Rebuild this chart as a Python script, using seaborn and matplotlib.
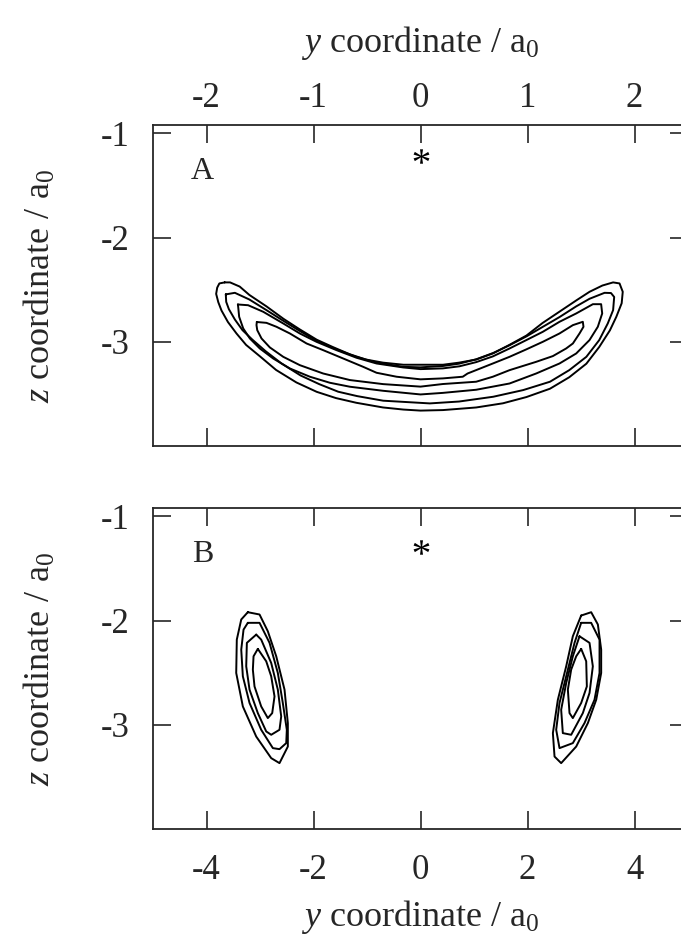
import pandas as pd
import matplotlib
matplotlib.use("Agg")
import matplotlib.pyplot as plt
import seaborn as sns

# contour outlines, (y, z) in bohr
# panel A: the banana shaped density, outer to inner
A1 = [(-1.83, -2.43), (-1.78, -2.43), (-1.69, -2.47), (-1.60, -2.55), (-1.44, -2.66),
      (-1.28, -2.78), (-1.13, -2.88), (-0.97, -2.98), (-0.82, -3.05), (-0.66, -3.12),
      (-0.51, -3.17), (-0.35, -3.20), (-0.16, -3.22), (0.00, -3.22), (0.21, -3.22),
      (0.36, -3.20), (0.52, -3.17), (0.68, -3.11), (0.83, -3.03), (0.99, -2.94),
      (1.14, -2.82), (1.30, -2.71), (1.46, -2.60), (1.58, -2.52), (1.70, -2.46),
      (1.80, -2.43), (1.86, -2.44), (1.89, -2.52), (1.88, -2.63), (1.83, -2.76),
      (1.77, -2.89), (1.67, -3.05), (1.55, -3.21), (1.39, -3.34), (1.21, -3.45),
      (0.99, -3.53), (0.77, -3.59), (0.52, -3.63), (0.21, -3.655), (0.00, -3.66),
      (-0.16, -3.65), (-0.35, -3.63), (-0.60, -3.585), (-0.79, -3.54), (-0.97, -3.48),
      (-1.16, -3.39), (-1.35, -3.27), (-1.50, -3.14), (-1.63, -3.03), (-1.72, -2.92),
      (-1.80, -2.81), (-1.86, -2.70), (-1.89, -2.62), (-1.91, -2.54), (-1.90, -2.48),
      (-1.88, -2.44)]
A2 = [(-1.82, -2.545), (-1.735, -2.53), (-1.60, -2.594), (-1.44, -2.696), (-1.28, -2.80),
      (-1.13, -2.895), (-0.97, -2.99), (-0.785, -3.073), (-0.60, -3.144), (-0.41, -3.20),
      (-0.16, -3.24), (0.00, -3.245), (0.21, -3.232), (0.36, -3.21), (0.52, -3.168),
      (0.68, -3.107), (0.83, -3.034), (0.99, -2.948), (1.14, -2.858), (1.30, -2.762),
      (1.455, -2.66), (1.58, -2.587), (1.72, -2.53), (1.78, -2.532), (1.81, -2.57),
      (1.80, -2.696), (1.75, -2.824), (1.67, -2.984), (1.55, -3.144), (1.39, -3.272),
      (1.21, -3.383), (0.96, -3.463), (0.68, -3.527), (0.36, -3.573), (0.087, -3.591),
      (-0.349, -3.565), (-0.592, -3.521), (-0.769, -3.479), (-0.947, -3.406),
      (-1.121, -3.323), (-1.299, -3.208), (-1.449, -3.089), (-1.573, -2.978),
      (-1.664, -2.888), (-1.735, -2.786), (-1.791, -2.687), (-1.816, -2.617)]
A3 = [(-1.707, -2.642), (-1.611, -2.649), (-1.470, -2.712), (-1.283, -2.824), (-1.128, -2.920),
      (-0.972, -3.000), (-0.785, -3.080), (-0.598, -3.153), (-0.411, -3.208), (-0.162, -3.246),
      (0.00, -3.262), (0.209, -3.255), (0.364, -3.235), (0.520, -3.195), (0.676, -3.140),
      (0.832, -3.064), (0.988, -2.984), (1.143, -2.904), (1.299, -2.808), (1.455, -2.728),
      (1.611, -2.639), (1.688, -2.639), (1.698, -2.728), (1.657, -2.856), (1.579, -2.984),
      (1.455, -3.112), (1.299, -3.208), (1.081, -3.304), (0.832, -3.40), (0.520, -3.46),
      (0.209, -3.49), (0.00, -3.505), (-0.349, -3.470), (-0.660, -3.431), (-0.847, -3.393),
      (-1.034, -3.335), (-1.221, -3.256), (-1.377, -3.160), (-1.502, -3.064), (-1.595, -2.968),
      (-1.657, -2.872), (-1.695, -2.760), (-1.704, -2.665)]
A4 = [(-1.53, -2.81), (-1.44, -2.818), (-1.346, -2.856), (-1.221, -2.920), (-1.065, -3.016),
      (-0.910, -3.080), (-0.723, -3.160), (-0.536, -3.240), (-0.411, -3.297), (-0.224, -3.335),
      (0.00, -3.36), (0.209, -3.351), (0.395, -3.335), (0.44, -3.304), (0.676, -3.208),
      (0.832, -3.144), (0.988, -3.073), (1.143, -3.000), (1.299, -2.920), (1.424, -2.840),
      (1.517, -2.808), (1.523, -2.856), (1.486, -2.920), (1.424, -3.016), (1.361, -3.064),
      (1.237, -3.137), (1.081, -3.192), (0.832, -3.272), (0.676, -3.335), (0.520, -3.383),
      (0.209, -3.405), (0.00, -3.43), (-0.349, -3.406), (-0.660, -3.367), (-0.910, -3.304),
      (-1.128, -3.224), (-1.283, -3.144), (-1.408, -3.054), (-1.486, -2.968), (-1.526, -2.888),
      (-1.533, -2.840)]

# panel B: two tilted lobes, left and right, outer to inner
BL1 = [(-3.228, -1.920), (-3.009, -1.942), (-2.854, -2.103), (-2.697, -2.343), (-2.542, -2.663),
       (-2.480, -2.984), (-2.480, -3.209), (-2.636, -3.368), (-2.791, -3.320), (-3.071, -3.113),
       (-3.321, -2.824), (-3.445, -2.503), (-3.434, -2.183), (-3.351, -1.990)]
BL2 = [(-3.228, -2.022), (-3.009, -2.022), (-2.822, -2.214), (-2.667, -2.503), (-2.574, -2.791),
       (-2.499, -3.048), (-2.510, -3.176), (-2.636, -3.234), (-2.760, -3.224), (-2.978, -3.048),
       (-3.196, -2.791), (-3.321, -2.535), (-3.351, -2.279), (-3.308, -2.087)]
BL3 = [(-3.071, -2.135), (-2.978, -2.183), (-2.791, -2.407), (-2.667, -2.663), (-2.604, -2.920),
       (-2.636, -3.048), (-2.791, -3.096), (-2.884, -3.064), (-3.041, -2.888), (-3.196, -2.663),
       (-3.258, -2.439), (-3.246, -2.214)]
BL4 = [(-3.041, -2.272), (-2.884, -2.391), (-2.791, -2.535), (-2.729, -2.728), (-2.772, -2.888),
       (-2.854, -2.936), (-2.978, -2.824), (-3.103, -2.632), (-3.134, -2.471), (-3.121, -2.343)]
BR1 = [(3.003, -1.952), (3.190, -1.920), (3.315, -2.038), (3.377, -2.279), (3.377, -2.503),
       (3.284, -2.760), (3.128, -2.984), (2.910, -3.209), (2.629, -3.368), (2.505, -3.305),
       (2.474, -3.080), (2.567, -2.760), (2.723, -2.439), (2.847, -2.151)]
BR2 = [(3.003, -2.022), (3.190, -2.022), (3.346, -2.183), (3.346, -2.503), (3.252, -2.760),
       (3.065, -2.984), (2.847, -3.176), (2.598, -3.224), (2.536, -3.048), (2.598, -2.791),
       (2.723, -2.535), (2.879, -2.214)]
BR3 = [(2.972, -2.151), (3.159, -2.214), (3.221, -2.439), (3.159, -2.695), (3.034, -2.888),
       (2.816, -3.096), (2.660, -3.080), (2.629, -2.856), (2.723, -2.599), (2.847, -2.343)]
BR4 = [(3.003, -2.272), (3.097, -2.391), (3.109, -2.632), (3.003, -2.791), (2.847, -2.936),
       (2.785, -2.888), (2.754, -2.663), (2.816, -2.471), (2.910, -2.343)]

star_A = [(0.0, -1.22)]
star_B = [(0.0, -1.29)]

xticks_A = [-2, -1, 0, 1, 2]
xticks_B = [-4, -2, 0, 2, 4]
zticks = [-1, -2, -3]


def outlines(contours):
    rows = []
    for k, c in enumerate(contours):
        for i, (y, z) in enumerate(list(c) + [c[0]]):
            rows.append({"y": y, "z": z, "level": k, "order": i})
    return pd.DataFrame(rows)


sns.set_style("ticks")
plt.rcParams["font.family"] = ["Liberation Serif", "DejaVu Serif"]
plt.rcParams["mathtext.fontset"] = "custom"
plt.rcParams["mathtext.rm"] = "Liberation Serif"
plt.rcParams["mathtext.it"] = "Liberation Serif:italic"
plt.rcParams["axes.unicode_minus"] = False
plt.rcParams["axes.linewidth"] = 1.3

fig = plt.figure(figsize=(6.81, 9.47), dpi=100)
axA = fig.add_axes([0.2247, 0.529, 0.7856, 0.339])
axB = fig.add_axes([0.2247, 0.1246, 0.7856, 0.339])

panels = [
    (axA, [A1, A2, A3, A4], star_A, xticks_A, (-2.5, 2.5), "A"),
    (axB, [BL1, BL2, BL3, BL4, BR1, BR2, BR3, BR4], star_B, xticks_B, (-5, 5), "B"),
]

xlab = r"$y$ coordinate / a$_0$"
zlab = r"$z$ coordinate / a$_0$"

for ax, cons, star, xt, xl, tag in panels:
    df = outlines(cons)
    sns.lineplot(data=df, x="y", y="z", units="level", estimator=None, sort=False,
                 color="black", lw=1.4, ax=ax, legend=False)
    st = pd.DataFrame(star, columns=["y", "z"])
    sns.scatterplot(data=st, x="y", y="z", marker=r"$*$", s=130, color="black",
                    linewidth=0, ax=ax)
    ax.set_xlim(*xl)
    ax.set_ylim(-4, -0.92)
    ax.set_xticks(xt)
    ax.set_yticks(zticks)
    ax.tick_params(direction="in", length=13, width=1.2, top=True, right=True,
                   labelsize=25, pad=7)
    ax.tick_params(axis="y", pad=17)
    ax.set_ylabel(zlab, fontsize=26)
    ax.yaxis.set_label_coords(-0.178, 0.5)
    ax.text(0.093, 0.855, tag, transform=ax.transAxes, fontsize=23,
            ha="center", va="center")

axA.tick_params(axis="x", labeltop=True, labelbottom=False)
axA.xaxis.set_label_position("top")
axA.set_xlabel(xlab, fontsize=26)
axA.xaxis.set_label_coords(0.5, 1.227)
axB.tick_params(axis="x", pad=18)
axB.set_xlabel(xlab, fontsize=26)
axB.xaxis.set_label_coords(0.5, -0.215)

fig.savefig("out.png", dpi=100)
